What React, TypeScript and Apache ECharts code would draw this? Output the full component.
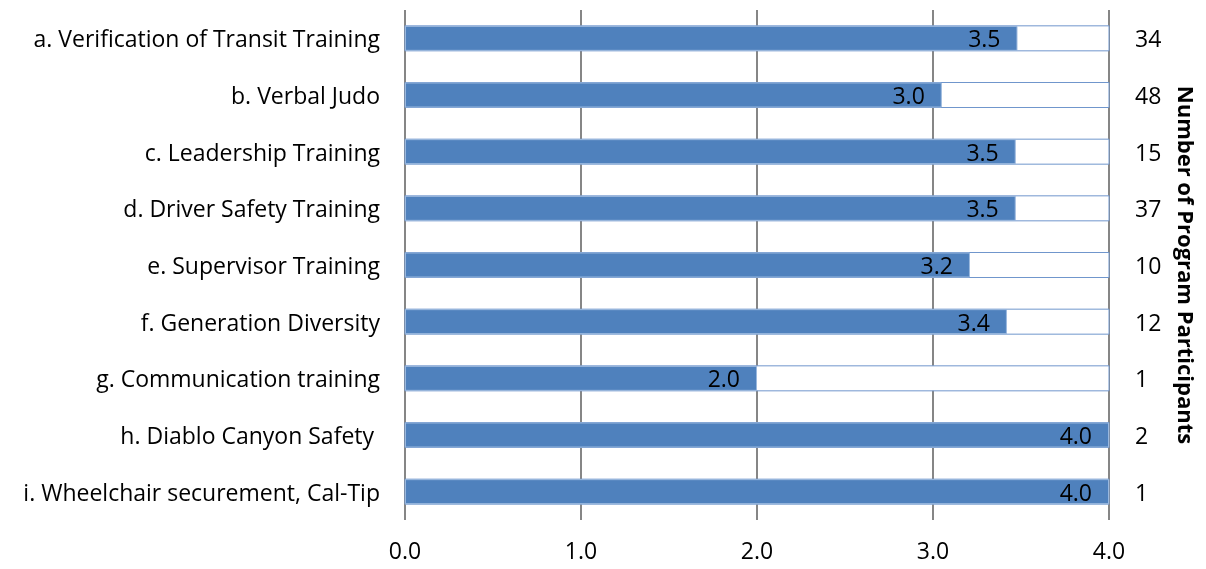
import React, { useEffect, useRef } from "react";
import * as echarts from "echarts";

const categories = [
  "a. Verification of Transit Training",
  "b. Verbal Judo",
  "c. Leadership Training",
  "d. Driver Safety Training",
  "e. Supervisor Training",
  "f. Generation Diversity",
  "g. Communication training",
  "h. Diablo Canyon Safety ",
  "i. Wheelchair securement, Cal-Tip",
];
const ratings = [3.48, 3.05, 3.47, 3.47, 3.21, 3.42, 2.0, 4.0, 4.0];
const participants = ["34", "48", "15", "37", "10", "12", "1", "2", "1"];
const xTicks = { min: 0, max: 4, interval: 1 };

const FONT = "Open Sans";
const FS = 23;

export default function App() {
  const ref = useRef<HTMLDivElement>(null);
  useEffect(() => {
    const chart = echarts.init(ref.current!, null, { renderer: "svg" });
    chart.setOption({
      animation: false,
      textStyle: { fontFamily: FONT },
      grid: { left: 405, right: 91, top: 10, bottom: 49, containLabel: false },
      xAxis: {
        type: "value",
        min: xTicks.min,
        max: xTicks.max,
        interval: xTicks.interval,
        axisLine: { show: false },
        axisTick: { show: false },
        splitLine: { show: true, lineStyle: { color: "#868686", width: 2 } },
        axisLabel: {
          color: "#000",
          fontSize: FS,
          fontFamily: FONT,
          margin: 18,
          formatter: (v: number) => v.toFixed(1),
        },
      },
      yAxis: [
        {
          type: "category",
          data: categories,
          inverse: true,
          position: "left",
          axisLine: { show: false },
          axisTick: { show: false },
          axisLabel: { color: "#000", fontSize: FS, fontFamily: FONT, margin: 25 },
        },
        {
          type: "category",
          data: participants,
          inverse: true,
          position: "right",
          axisLine: { show: false },
          axisTick: { show: false },
          axisLabel: { color: "#000", fontSize: FS, fontFamily: FONT, margin: 26, align: "left" },
          name: "Number of Program Participants",
          nameLocation: "middle",
          nameRotate: -90,
          nameGap: 67,
          nameTextStyle: { color: "#000", fontSize: 22, fontWeight: "bold", fontFamily: FONT },
        },
      ],
      series: [
        {
          type: "bar",
          data: ratings,
          yAxisIndex: 0,
          barWidth: 25,
          showBackground: true,
          backgroundStyle: { color: "#ffffff", borderColor: "#7096cc", borderWidth: 1 },
          itemStyle: { color: "#4f81bd", borderColor: "#9ab8de", borderWidth: 1 },
          label: {
            show: true,
            position: "insideRight",
            distance: 17,
            color: "#000",
            fontSize: FS,
            fontFamily: FONT,
            formatter: (p: any) => Number(p.value).toFixed(1),
          },
        },
      ],
    });
    return () => chart.dispose();
  }, []);
  return (
    <div
      ref={ref}
      style={{ position: "fixed", left: 0, top: 0, width: 1206, height: 569 }}
    />
  );
}
